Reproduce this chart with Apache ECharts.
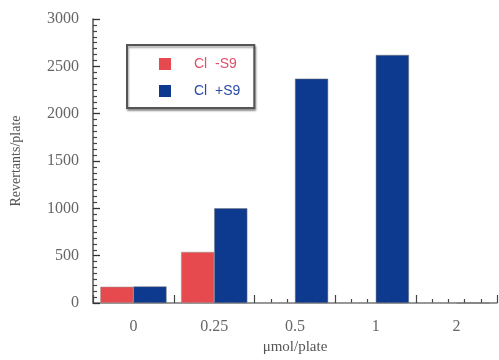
<!DOCTYPE html>
<html><head><meta charset="utf-8">
<script src="https://cdn.jsdelivr.net/npm/echarts@6/dist/echarts.min.js"></script>
<style>html,body{margin:0;padding:0;background:#fff}#c{width:499px;height:360px}</style>
</head><body><div id="c"></div>
<script>
const categories = ['0', '0.25', '0.5', '1', '2'];
const minusS9 = [172, 540, 0, 0, 0];
const plusS9 = [175, 1000, 2370, 2620, 0];
const yTicks = [0, 500, 1000, 1500, 2000, 2500, 3000];

const chart = echarts.init(document.getElementById('c'));
const serif = 'Liberation Serif';
chart.setOption({
  animation: false,
  backgroundColor: '#fff',
  grid: { left: 93, right: 2, top: 19, bottom: 57 },
  legend: {
    left: 127, top: 45, width: 104, height: 45,
    orient: 'vertical',
    itemWidth: 12, itemHeight: 12, itemGap: 13,
    padding: [12, 14, 10, 32],
    borderColor: '#555', borderWidth: 2,
    backgroundColor: '#fff',
    shadowColor: 'rgba(0,0,0,0.35)', shadowBlur: 2, shadowOffsetX: 1, shadowOffsetY: 2,
    icon: 'rect',
    itemStyle: { borderWidth: 0 },
    data: [
      { name: 'Cl  -S9', textStyle: { color: '#e0506a' } },
      { name: 'Cl  +S9', textStyle: { color: '#2a4aa8' } }
    ],
    textStyle: { fontFamily: 'Liberation Sans', fontSize: 14, padding: [0, 0, 0, 18] }
  },
  xAxis: [{
    type: 'category', data: categories,
    axisLine: { lineStyle: { color: '#777', width: 1.5 } },
    axisTick: { show: false },
    axisLabel: { color: '#666', fontFamily: serif, fontSize: 16, margin: 16 },
    name: 'μmol/plate', nameLocation: 'middle', nameGap: 36,
    nameTextStyle: { color: '#555', fontFamily: serif, fontSize: 15 }
  }, {
    type: 'value', min: 0, max: 5, interval: 1, position: 'bottom',
    axisLine: { show: false },
    axisLabel: { show: false },
    splitLine: { show: false },
    axisTick: { show: true, inside: true, length: 8, lineStyle: { color: '#444', width: 1.2 } },
    minorTick: { show: true, splitNumber: 5, length: 4, lineStyle: { color: '#444', width: 1.2 } }
  }],
  yAxis: {
    type: 'value', min: 0, max: 3000, interval: 500,
    axisLine: { show: true, lineStyle: { color: '#555', width: 1.5 } },
    axisTick: { show: true, inside: true, length: 7, lineStyle: { color: '#333', width: 1.3 } },
    minorTick: { show: true, splitNumber: 8, length: 4, lineStyle: { color: '#444', width: 1.2 } },
    splitLine: { show: false },
    axisLabel: { color: '#666', fontFamily: serif, fontSize: 16, margin: 14,
      formatter: v => yTicks.includes(v) ? String(v) : '' },
    name: 'Revertants/plate', nameLocation: 'middle', nameGap: 70,
    nameTextStyle: { color: '#555', fontFamily: serif, fontSize: 14 }
  },
  series: [{
    name: 'Cl  -S9', type: 'bar', data: minusS9, barGap: '0%', barCategoryGap: '18%',
    itemStyle: { color: '#e64a4e', borderColor: '#999', borderWidth: 0.5 }
  }, {
    name: 'Cl  +S9', type: 'bar', data: plusS9,
    itemStyle: { color: '#0d3a8e', borderColor: '#777', borderWidth: 0.5 }
  }]
});
</script></body></html>
